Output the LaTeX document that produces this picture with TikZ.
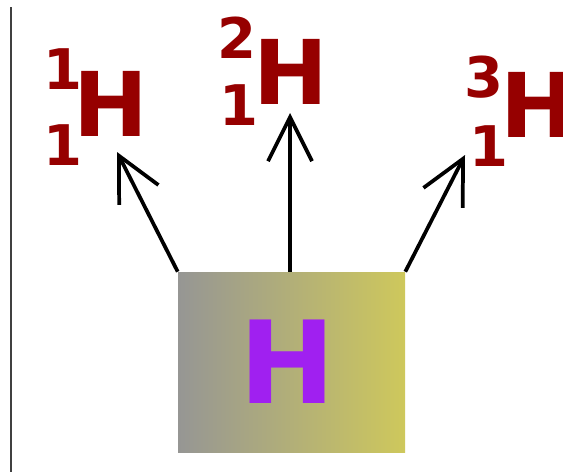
\documentclass[tikz,border=0pt]{standalone}
\usepackage{fontspec}
\newfontfamily\isofont{DejaVu Sans}
\usetikzlibrary{arrows.meta}
\definecolor{IsoRed}{RGB}{150,0,0}
\definecolor{AtomPurple}{RGB}{160,32,240}
\definecolor{BoxGray}{RGB}{150,150,148}
\definecolor{BoxOlive}{RGB}{206,200,92}

\begin{document}
\begin{tikzpicture}[x=0.75pt, y=-0.75pt,
  sym/.style={inner sep=0pt, text=IsoRed, font=\isofont\bfseries\fontsize{67}{67}\selectfont},
  num/.style={inner sep=0pt, text=IsoRed, font=\isofont\bfseries\fontsize{42}{42}\selectfont},
  element/.style={rectangle, inner sep=0pt, minimum width=170.25pt, minimum height=135pt, left color=BoxGray, right color=BoxOlive},
  split/.style={-{Straight Barb[length=33pt, width=33pt]}, line width=2.8pt, black}
]
\useasboundingbox (0,0) rectangle (563,472);

% left rule
\draw[line width=1.5pt, black!75] (11,7) -- (11,472);

% the element box
\node[element] (atom) at (291.5,362) {};
\node[inner sep=0pt, text=AtomPurple, font=\isofont\bfseries\fontsize{86}{86}\selectfont] (atomsym) at (287,362) {H};

% protium
\node[sym] (h1) at (111,104) {H};
\node[num] (h1mass) at (63,69) {1};
\node[num] (h1atom) at (63,145) {1};

% deuterium
\node[sym] (h2) at (291,72) {H};
\node[num] (h2mass) at (237,38) {2};
\node[num] (h2atom) at (239,105) {1};

% tritium
\node[sym] (h3) at (538,105) {H};
\node[num] (h3mass) at (484,77) {3};
\node[num] (h3atom) at (489,146) {1};

% arrows
\coordinate (tip1) at (117,152);
\coordinate (tip2) at (290,113);
\coordinate (tip3) at (465,155);
\draw[split] (atom.north west) -- (tip1);
\draw[split] (atom.north) ++(-1.5,0) coordinate (mid) -- (tip2);
\draw[split] (atom.north east) -- (tip3);

\end{tikzpicture}
\end{document}
